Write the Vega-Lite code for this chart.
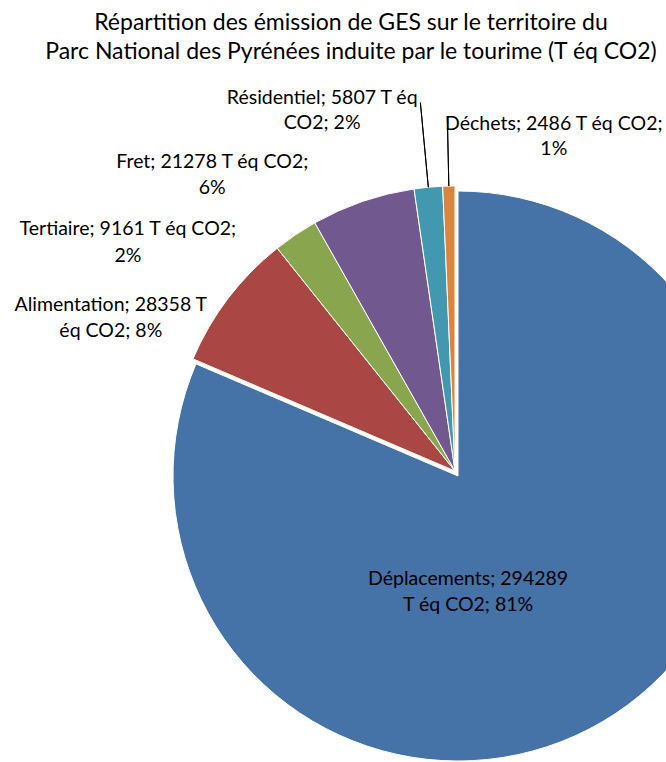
{
  "$schema": "https://vega.github.io/schema/vega-lite/v6.json",
  "width": 910,
  "height": 782,
  "autosize": {"type": "none"},
  "padding": {"left": 0, "top": 80, "right": 0, "bottom": 0},
  "background": "white",
  "view": {"stroke": null},
  "title": {
    "text": ["Répartition des émission de GES sur le territoire du", "Parc National des Pyrénées induite par le tourime (T éq CO2)"],
    "font": "Lato",
    "fontSize": 23,
    "fontWeight": "normal",
    "color": "#000000",
    "anchor": "middle",
    "dx": -104,
    "offset": 16,
    "lineHeight": 29
  },
  "data": {
    "values": [
      {"categorie": "Déplacements", "valeur": 294289, "ordre": 1, "label": "Déplacements; 294289\nT éq CO2; 81%"},
      {"categorie": "Alimentation", "valeur": 28358, "ordre": 2, "label": "Alimentation; 28358 T\néq CO2; 8%"},
      {"categorie": "Tertiaire", "valeur": 9161, "ordre": 3, "label": "Tertiaire; 9161 T éq CO2;\n2%"},
      {"categorie": "Fret", "valeur": 21278, "ordre": 4, "label": "Fret; 21278 T éq CO2;\n6%"},
      {"categorie": "Résidentiel", "valeur": 5807, "ordre": 5, "label": "Résidentiel; 5807 T éq\nCO2; 2%"},
      {"categorie": "Déchets", "valeur": 2486, "ordre": 6, "label": "Déchets; 2486 T éq CO2;\n1%"}
    ]
  },
  "encoding": {
    "theta": {"field": "valeur", "type": "quantitative", "stack": true},
    "order": {"field": "ordre", "type": "quantitative"}
  },
  "layer": [
    {
      "mark": {"type": "arc", "outerRadius": 285, "stroke": "white", "strokeWidth": 1},
      "encoding": {
        "color": {
          "field": "categorie", "type": "nominal", "legend": null,
          "scale": {
            "domain": ["Déplacements", "Alimentation", "Tertiaire", "Fret", "Résidentiel", "Déchets"],
            "range": ["#4572A7", "#AA4643", "#89A54E", "#71588F", "#4198AF", "#DB843D"]
          }
        },
        "opacity": {"condition": {"test": "datum.categorie === 'Déplacements'", "value": 0}, "value": 1}
      }
    },
    {
      "mark": {"type": "arc", "outerRadius": 285, "stroke": "white", "strokeWidth": 1, "xOffset": 3, "yOffset": 5},
      "encoding": {
        "color": {"field": "categorie", "type": "nominal", "legend": null},
        "opacity": {"condition": {"test": "datum.categorie === 'Déplacements'", "value": 1}, "value": 0}
      }
    },
    {
      "mark": {"type": "arc", "innerRadius": 285, "outerRadius": 370, "padAngle": 0.3, "fill": null, "stroke": "#000000", "strokeWidth": 1},
      "encoding": {
        "strokeOpacity": {"condition": {"test": "datum.categorie === 'Résidentiel'", "value": 1}, "value": 0}
      }
    },
    {
      "mark": {"type": "arc", "innerRadius": 285, "outerRadius": 355, "padAngle": 0.3, "fill": null, "stroke": "#000000", "strokeWidth": 1},
      "encoding": {
        "strokeOpacity": {"condition": {"test": "datum.categorie === 'Déchets'", "value": 1}, "value": 0}
      }
    },
    {
      "mark": {"type": "text", "radius": 120, "dx": -53, "dy": 8, "font": "Lato", "fontSize": 19.5, "lineBreak": "\n", "lineHeight": 26, "align": "center", "baseline": "middle", "color": "#000000"},
      "encoding": {"text": {"condition": {"test": "datum.categorie === 'Déplacements'", "field": "label"}, "value": ""}}
    },
    {
      "mark": {"type": "text", "radius": 366, "dx": -53, "dy": 56, "font": "Lato", "fontSize": 19.5, "lineBreak": "\n", "lineHeight": 26, "align": "center", "baseline": "middle", "color": "#000000"},
      "encoding": {"text": {"condition": {"test": "datum.categorie === 'Alimentation'", "field": "label"}, "value": ""}}
    },
    {
      "mark": {"type": "text", "radius": 372, "dx": -119, "dy": 66, "font": "Lato", "fontSize": 19.5, "lineBreak": "\n", "lineHeight": 27, "align": "center", "baseline": "middle", "color": "#000000"},
      "encoding": {"text": {"condition": {"test": "datum.categorie === 'Tertiaire'", "field": "label"}, "value": ""}}
    },
    {
      "mark": {"type": "text", "radius": 358, "dx": -127, "dy": 30, "font": "Lato", "fontSize": 19.5, "lineBreak": "\n", "lineHeight": 26, "align": "center", "baseline": "middle", "color": "#000000"},
      "encoding": {"text": {"condition": {"test": "datum.categorie === 'Fret'", "field": "label"}, "value": ""}}
    },
    {
      "mark": {"type": "text", "radius": 372, "dx": -98, "dy": -3, "font": "Lato", "fontSize": 19.5, "lineBreak": "\n", "lineHeight": 25, "align": "center", "baseline": "middle", "color": "#000000"},
      "encoding": {"text": {"condition": {"test": "datum.categorie === 'Résidentiel'", "field": "label"}, "value": ""}}
    },
    {
      "mark": {"type": "text", "radius": 333, "dx": 106, "dy": -14, "font": "Lato", "fontSize": 19.5, "lineBreak": "\n", "lineHeight": 25, "align": "center", "baseline": "middle", "color": "#000000"},
      "encoding": {"text": {"condition": {"test": "datum.categorie === 'Déchets'", "field": "label"}, "value": ""}}
    }
  ]
}
